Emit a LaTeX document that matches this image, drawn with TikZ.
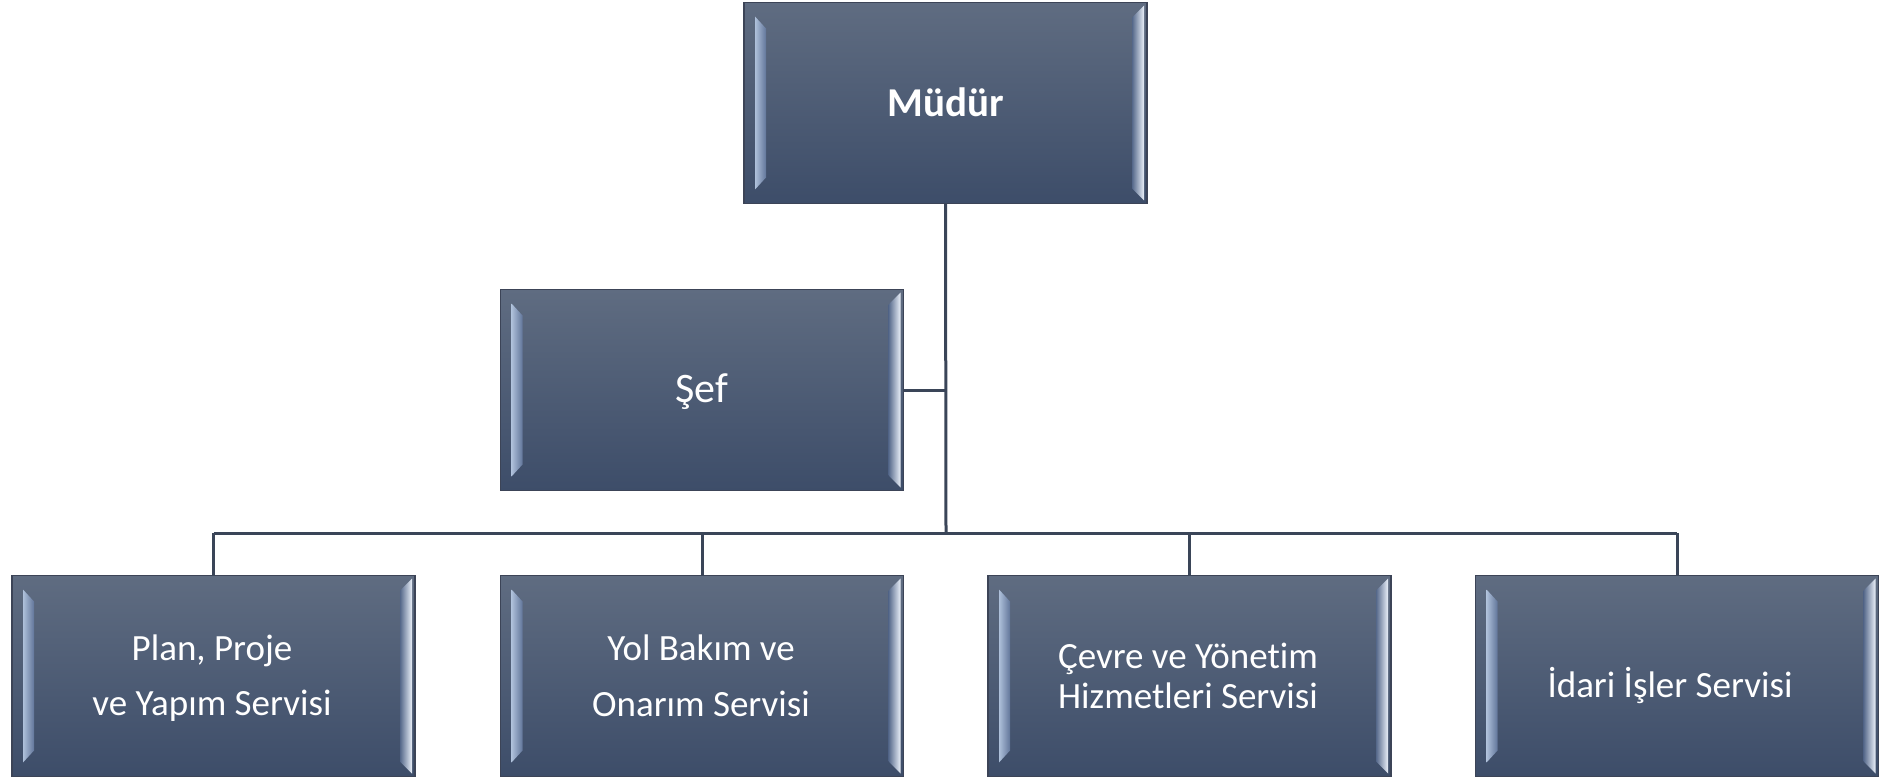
\documentclass[tikz,border=0pt]{standalone}
\usepackage{fontspec}
\setmainfont[Ligatures={NoCommon}]{Carlito}
\usetikzlibrary{calc}
\definecolor{facetop}{HTML}{5F6C81}
\definecolor{facebot}{HTML}{3D4D69}
\definecolor{edgecol}{HTML}{3C4457}
\definecolor{conncol}{HTML}{3A4558}
\definecolor{bevL1}{HTML}{AEC0DA}
\definecolor{bevL2}{HTML}{62769A}
\definecolor{bevR1}{HTML}{55688A}
\definecolor{bevR2}{HTML}{EAF0F9}
\tikzset{
  orgbox/.style={draw=edgecol, line width=1.3pt, top color=facetop, bottom color=facebot,
    minimum width=403pt, minimum height=201pt, inner sep=0pt, outer sep=0pt},
  conn/.style={draw=conncol, line width=3pt},
  lbl/.style={text=white, anchor=base, inner sep=0pt},
  big/.style={font=\fontsize{37}{44}\selectfont},
}
\newcommand{\bevelit}[1]{%
  \shade[left color=bevL1, right color=bevL2]
    ($(#1.north west)+(11,14)$) -- ($(#1.north west)+(22,26)$) --
    ($(#1.south west)+(22,-26)$) -- ($(#1.south west)+(11,-14)$) -- cycle;
  \shade[left color=bevR1, right color=bevR2]
    ($(#1.north east)+(-15,15)$) -- ($(#1.north east)+(-3,3)$) --
    ($(#1.south east)+(-3,-3)$) -- ($(#1.south east)+(-15,-15)$) -- cycle;
}
\begin{document}
\begin{tikzpicture}[x=1pt,y=-1pt]
\useasboundingbox (0,0) rectangle (1890,778);
% boxes
\node[orgbox] (mudur) at (945.5,103) {};
\node[orgbox] (sef) at (702,390) {};
\node[orgbox] (b1) at (213.5,676) {};
\node[orgbox] (b2) at (702,676) {};
\node[orgbox] (b3) at (1189.5,676) {};
\node[orgbox] (b4) at (1677,676) {};
\bevelit{mudur}
\bevelit{sef}
\bevelit{b1}
\bevelit{b2}
\bevelit{b3}
\bevelit{b4}
% connectors
\coordinate (busC) at (946,533);
\coordinate (busL) at (213.5,533);
\coordinate (busR) at (1677,533);
\draw[conn] (mudur.south) -- (busC);
\draw[conn] (sef.east) -- (sef.east -| busC);
\draw[conn] (busL) -- (busR);
\draw[conn] (busL) -- (b1.north);
\draw[conn] (b2.north |- busC) -- (b2.north);
\draw[conn] (b3.north |- busC) -- (b3.north);
\draw[conn] (busR) -- (b4.north);
% labels
\node[lbl, font=\fontsize{41}{49}\selectfont\bfseries] (tm) at (945.5,117) {Müdür};
\node[lbl, font=\fontsize{42}{50}\selectfont] (ts) at (702,402) {Şef};
\node[lbl, big] (t1a) at (212,660) {Plan, Proje};
\node[lbl, big] (t1b) at (212,715) {ve Yapım Servisi};
\node[lbl, big] (t2a) at (701,660) {Yol Bakım ve};
\node[lbl, big] (t2b) at (701,716) {Onarım Servisi};
\node[lbl, big] (t3a) at (1188,668) {Çevre ve Yönetim};
\node[lbl, big] (t3b) at (1188,708) {Hizmetleri Servisi};
\node[lbl, big] (t4) at (1670,697) {İdari İşler Servisi};
\end{tikzpicture}
\end{document}
